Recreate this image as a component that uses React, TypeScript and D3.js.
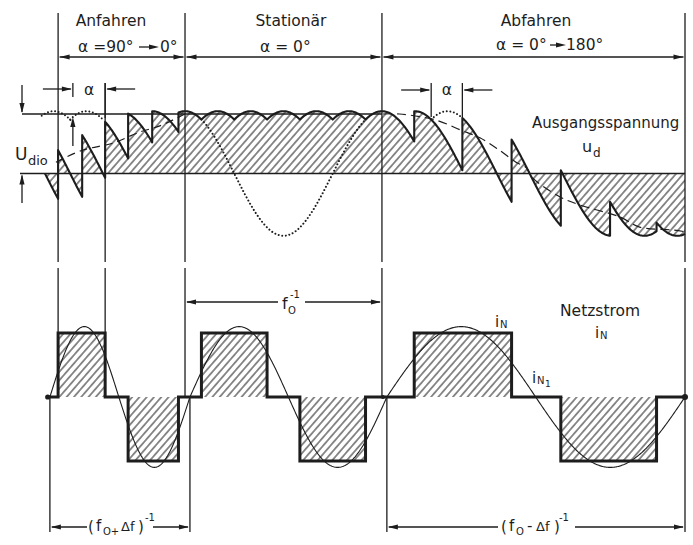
import React from "react";
import * as d3 from "d3";

const W = 693;
const H = 545;
const ink = "#1d1d1d";

// ---------------- data (time axis in electrical degrees of the line voltage, 0° = start of steady state) ----------------
const axisDeg = [-298, 914];
const regionNames = ["Anfahren", "Stationär", "Abfahren"];
const regionStart = [-232, 0, 360];
const regionEnd = [0, 360, 914];

// output voltage u_d: each pulse follows a line-voltage arc (crest udPeak * Udio)
const udPeak = 1.047;
const pulsePeak = [-346, -300, -240, -180, -120, -60, 0, 60, 120, 180, 240, 300, 360, 420, 480, 540, 600, 660, 720];
const pulseFire = [-256, -232, -188, -146, -104, -60, -12, 30, 90, 150, 210, 270, 330, 419, 507, 597, 687, 777, 862];
const pulseEnd = 914;

// line current i_N: block level in each interval between firings
const blockLevel = [0, 1, 1, 0, -1, -1, 0, 1, 1, 0, -1, -1, 0, 1, 1, 0, -1, -1, 0];
const currentStart = -251;

// fundamental i_N1: zero crossings and amplitude
const iN1Zeros = [-247, -121, 9, 189, 369, 641, 914];
const iN1Amp = 1.1;

// dotted (uncontrolled) arcs
const dotArcPeak = [-240, -180, 480];
const dotArcFrom = [-262, -210, 450];
const dotArcTo = [-205, -150, 507];
// dotted line voltage in steady state
const lineVoltFrom = 30;
const lineVoltTo = 330;

// dashed mean value of u_d
const meanUpDeg = [-236, -188, -132, -82, -46, 0];
const meanUpVal = [0.19, 0.39, 0.51, 0.7, 0.8, 1.0];
const meanDownDeg = [362, 392, 458, 504, 539, 575, 605, 625, 634, 685, 722, 795, 831, 892, 914];
const meanDownVal = [1.0, 1.0, 0.9, 0.73, 0.6, 0.39, 0.19, 0.09, -0.06, -0.39, -0.53, -0.73, -0.9, -0.95, -0.98];

// alpha markers
const alphaMarkFrom = [-205, 450];
const alphaMarkTo = [-146, 507];

// ---------------- scales ----------------
const x = d3.scaleLinear().domain(axisDeg).range([22, 685]);
const yU = d3.scaleLinear().domain([0, 1]).range([173.5, 114]);
const yI = d3.scaleLinear().domain([0, 1]).range([397, 333]);

const rad = Math.PI / 180;

function sampleArc(peak: number, from: number, to: number, amp: number): [number, number][] {
  const n = Math.max(2, Math.ceil(Math.abs(to - from) / 1.5));
  return d3.range(n + 1).map((j) => {
    const t = from + ((to - from) * j) / n;
    return [t, amp * Math.cos((t - peak) * rad)] as [number, number];
  });
}

const udPts: [number, number][] = [];
pulseFire.forEach((f, i) => {
  const e = i < pulseFire.length - 1 ? pulseFire[i + 1] : pulseEnd;
  udPts.push(...sampleArc(pulsePeak[i], f, e, udPeak));
});

const curPts: [number, number][] = [];
pulseFire.forEach((f, i) => {
  const e = i < pulseFire.length - 1 ? pulseFire[i + 1] : pulseEnd;
  const a = Math.max(f, currentStart);
  if (e <= currentStart) return;
  curPts.push([a, blockLevel[i]], [e, blockLevel[i]]);
});

const iN1Pts: [number, number][] = [];
for (let i = 0; i < iN1Zeros.length - 1; i++) {
  const a = iN1Zeros[i];
  const b = iN1Zeros[i + 1];
  const s = i % 2 === 0 ? 1 : -1;
  const n = Math.ceil((b - a) / 1.5);
  for (let j = 0; j <= n; j++) {
    const t = a + ((b - a) * j) / n;
    iN1Pts.push([t, s * iN1Amp * Math.sin((Math.PI * j) / n)]);
  }
}

const lineU = d3.line<[number, number]>().x((d) => x(d[0])).y((d) => yU(d[1]));
const areaU = d3
  .area<[number, number]>()
  .x((d) => x(d[0]))
  .y0(yU(0))
  .y1((d) => yU(d[1]));
const lineI = d3.line<[number, number]>().x((d) => x(d[0])).y((d) => yI(d[1]));
const areaI = d3
  .area<[number, number]>()
  .x((d) => x(d[0]))
  .y0(yI(0))
  .y1((d) => yI(d[1]));
const smoothU = d3
  .line<[number, number]>()
  .x((d) => x(d[0]))
  .y((d) => yU(d[1]))
  .curve(d3.curveCatmullRom);

function Head({ x: hx, y: hy, dir }: { x: number; y: number; dir: "l" | "r" | "u" | "d" }) {
  const L = 10;
  const h = 2.6;
  let p: number[][];
  if (dir === "r") p = [[hx, hy], [hx - L, hy - h], [hx - L, hy + h]];
  else if (dir === "l") p = [[hx, hy], [hx + L, hy - h], [hx + L, hy + h]];
  else if (dir === "d") p = [[hx, hy], [hx - h, hy - L], [hx + h, hy - L]];
  else p = [[hx, hy], [hx - h, hy + L], [hx + h, hy + L]];
  return <path d={"M" + p.map((q) => q.join(",")).join("L") + "Z"} fill={ink} />;
}

function VLine({ xx, y1, y2, gap = true }: { xx: number; y1: number; y2: number; gap?: boolean }) {
  if (gap && y1 < 262 && y2 > 268) {
    return (
      <g stroke={ink} strokeWidth={1.3}>
        <line x1={xx} x2={xx} y1={y1} y2={262} />
        <line x1={xx} x2={xx} y1={268} y2={y2} />
      </g>
    );
  }
  return <line x1={xx} x2={xx} y1={y1} y2={y2} stroke={ink} strokeWidth={1.3} />;
}

export default function App() {
  const fs = 15.5;
  const xs = regionStart.map((d) => x(d));
  const xe = regionEnd.map((d) => x(d));
  const titleX = [111, 291, 536];
  const ya = 57;

  return (
    <svg
      width={W}
      height={H}
      viewBox={`0 0 ${W} ${H}`}
      style={{ position: "fixed", left: 0, top: 0, background: "#fff" }}
      fontFamily="DejaVu Sans, sans-serif"
    >
      <defs>
        <pattern id="hatch" patternUnits="userSpaceOnUse" width={5.5} height={10} patternTransform="rotate(41)">
          <line x1={2.75} x2={2.75} y1={0} y2={10} stroke={ink} strokeWidth={1} />
        </pattern>
      </defs>
      <rect width={W} height={H} fill="#fff" />

      {/* region titles */}
      {regionNames.map((n, i) => (
        <text key={n} x={titleX[i]} y={26} fontSize={fs} textAnchor="middle" fill={ink}>
          {n}
        </text>
      ))}

      {/* alpha range labels */}
      <text x={78} y={52} fontSize={fs} fill={ink}>α =90°</text>
      <line x1={139} x2={150} y1={47} y2={47} stroke={ink} strokeWidth={1.3} />
      <Head x={159} y={47} dir="r" />
      <text x={160} y={52} fontSize={fs} fill={ink}>0°</text>
      <text x={260} y={52} fontSize={fs} fill={ink}>α = 0°</text>
      <text x={496} y={50} fontSize={fs} fill={ink}>α = 0°</text>
      <line x1={550} x2={557} y1={45} y2={45} stroke={ink} strokeWidth={1.3} />
      <Head x={566} y={45} dir="r" />
      <text x={566} y={50} fontSize={fs} fill={ink}>180°</text>

      {/* region arrows */}
      {regionNames.map((n, i) => (
        <g key={"ra" + n}>
          <line x1={xs[i] + 1.5} x2={xe[i] - 1.5} y1={ya} y2={ya} stroke={ink} strokeWidth={1.3} />
          <Head x={xs[i] + 1.5} y={ya} dir="l" />
          <Head x={xe[i] - 1.5} y={ya} dir="r" />
        </g>
      ))}

      {/* vertical boundary lines */}
      <VLine xx={x(regionStart[0])} y1={13} y2={yI(1)} />
      <VLine xx={x(pulseFire[3])} y1={83} y2={yI(1)} />
      <VLine xx={x(regionStart[1])} y1={13} y2={yI(0)} />
      <VLine xx={x(regionStart[2])} y1={13} y2={yI(0)} />
      <VLine xx={x(regionEnd[2])} y1={13} y2={532} />
      <VLine xx={x(iN1Zeros[0])} y1={yI(0)} y2={532} gap={false} />
      <VLine xx={x(iN1Zeros[2])} y1={yI(0)} y2={532} gap={false} />
      <VLine xx={x(iN1Zeros[4])} y1={yI(0)} y2={532} gap={false} />

      {/* ---------- upper: output voltage ---------- */}
      <path d={areaU(udPts) || ""} fill="url(#hatch)" />
      <line x1={22} x2={x(360)} y1={yU(1)} y2={yU(1)} stroke={ink} strokeWidth={1.3} />
      <line x1={20} x2={685} y1={yU(0)} y2={yU(0)} stroke={ink} strokeWidth={1.4} />

      {/* dashed mean value */}
      <path
        d={smoothU(meanUpDeg.map((d, i) => [d, meanUpVal[i]] as [number, number])) || ""}
        fill="none"
        stroke={ink}
        strokeWidth={1.2}
        strokeDasharray="8 5"
      />
      <path
        d={smoothU(meanDownDeg.map((d, i) => [d, meanDownVal[i]] as [number, number])) || ""}
        fill="none"
        stroke={ink}
        strokeWidth={1.2}
        strokeDasharray="9 5"
      />

      {/* dotted arcs & dotted line voltage */}
      {dotArcPeak.map((p, i) => (
        <path
          key={"da" + i}
          d={lineU(sampleArc(p, dotArcFrom[i], dotArcTo[i], udPeak)) || ""}
          fill="none"
          stroke={ink}
          strokeWidth={2}
          strokeLinecap="round"
          strokeDasharray="0.01 3.6"
        />
      ))}
      <path
        d={lineU(sampleArc(0, lineVoltFrom, lineVoltTo, udPeak)) || ""}
        fill="none"
        stroke={ink}
        strokeWidth={2}
        strokeLinecap="round"
        strokeDasharray="0.01 3.6"
      />

      <path d={lineU(udPts) || ""} fill="none" stroke={ink} strokeWidth={2.1} strokeLinejoin="round" />

      {/* Udio dimension */}
      <line x1={22} x2={22} y1={85} y2={yU(1) - 2} stroke={ink} strokeWidth={1.3} />
      <Head x={22} y={yU(1) - 1} dir="d" />
      <line x1={22} x2={22} y1={203} y2={yU(0) + 2} stroke={ink} strokeWidth={1.3} />
      <Head x={22} y={yU(0) + 1} dir="u" />
      <text x={15} y={160} fontSize={17} fill={ink}>U</text>
      <text x={28} y={165} fontSize={13} fill={ink}>dio</text>

      {/* alpha markers */}
      {alphaMarkFrom.map((a, i) => {
        const xa = x(a);
        const xb = x(alphaMarkTo[i]);
        const yy = i === 0 ? 89 : 90;
        return (
          <g key={"am" + i}>
            <line x1={xa - 30} x2={xa - 2} y1={yy} y2={yy} stroke={ink} strokeWidth={1.3} />
            <Head x={xa - 1} y={yy} dir="r" />
            <line x1={xb + 2} x2={xb + 30} y1={yy} y2={yy} stroke={ink} strokeWidth={1.3} />
            <Head x={xb + 1} y={yy} dir="l" />
            <line x1={xa} x2={xa} y1={83} y2={i === 0 ? 97 : 117} stroke={ink} strokeWidth={1.3} />
            <line x1={xb} x2={xb} y1={83} y2={118} stroke={ink} strokeWidth={1.3} />
            <text x={(xa + xb) / 2} y={95} fontSize={fs} textAnchor="middle" fill={ink}>α</text>
          </g>
        );
      })}
      <line x1={x(alphaMarkFrom[0])} x2={x(alphaMarkFrom[0])} y1={146} y2={126} stroke={ink} strokeWidth={1.3} />
      <Head x={x(alphaMarkFrom[0])} y={117} dir="u" />

      <text x={532} y={128} fontSize={15} fill={ink}>Ausgangsspannung</text>
      <text x={582} y={152} fontSize={16} fill={ink}>u</text>
      <text x={593} y={157} fontSize={12} fill={ink}>d</text>

      {/* ---------- lower: line current ---------- */}
      <path d={areaI(curPts) || ""} fill="url(#hatch)" />
      <path d={lineI(iN1Pts) || ""} fill="none" stroke={ink} strokeWidth={1.1} />
      <path d={lineI(curPts) || ""} fill="none" stroke={ink} strokeWidth={3} strokeLinejoin="miter" />
      <circle cx={x(currentStart)} cy={yI(0)} r={2.6} fill={ink} />
      <circle cx={x(pulseEnd)} cy={yI(0)} r={3} fill={ink} />
      <circle cx={x(iN1Zeros[4]) - 4} cy={yI(0)} r={2} fill={ink} />

      <text x={560} y={316} fontSize={fs} fill={ink}>Netzstrom</text>
      <text x={595} y={338} fontSize={15} fill={ink}>i</text>
      <text x={600} y={339} fontSize={10} fill={ink}>N</text>
      <text x={495} y={327} fontSize={15} fill={ink}>i</text>
      <text x={500} y={328} fontSize={10} fill={ink}>N</text>
      <text x={532} y={383} fontSize={15} fill={ink}>i</text>
      <text x={537} y={384} fontSize={10} fill={ink}>N</text>
      <text x={545} y={387} fontSize={9} fill={ink}>1</text>

      {/* f0^-1 dimension */}
      <line x1={x(0) + 2} x2={278} y1={302} y2={302} stroke={ink} strokeWidth={1.3} />
      <line x1={305} x2={x(360) - 2} y1={302} y2={302} stroke={ink} strokeWidth={1.3} />
      <Head x={x(0) + 1} y={302} dir="l" />
      <Head x={x(360) - 1} y={302} dir="r" />
      <text x={282} y={309} fontSize={16} fill={ink}>f</text>
      <text x={288} y={314} fontSize={10} fill={ink}>O</text>
      <text x={290} y={298} fontSize={10} fill={ink}>-1</text>

      {/* (f0 + Δf)^-1 */}
      <line x1={x(iN1Zeros[0]) + 2} x2={87} y1={527} y2={527} stroke={ink} strokeWidth={1.3} />
      <line x1={153} x2={x(iN1Zeros[2]) - 2} y1={527} y2={527} stroke={ink} strokeWidth={1.3} />
      <Head x={x(iN1Zeros[0]) + 1} y={527} dir="l" />
      <Head x={x(iN1Zeros[2]) - 1} y={527} dir="r" />
      <text x={88} y={532} fontSize={15} fill={ink}>(</text>
      <text x={96} y={531} fontSize={15} fill={ink}>f</text>
      <text x={103} y={535} fontSize={10} fill={ink}>O+</text>
      <text x={121} y={531} fontSize={13} fill={ink}>Δf</text>
      <text x={138} y={532} fontSize={15} fill={ink}>)</text>
      <text x={145} y={521} fontSize={10} fill={ink}>-1</text>

      {/* (f0 - Δf)^-1 */}
      <line x1={x(iN1Zeros[4]) + 2} x2={498} y1={527} y2={527} stroke={ink} strokeWidth={1.3} />
      <line x1={575} x2={x(iN1Zeros[6]) - 2} y1={527} y2={527} stroke={ink} strokeWidth={1.3} />
      <Head x={x(iN1Zeros[4]) + 1} y={527} dir="l" />
      <Head x={x(iN1Zeros[6]) - 1} y={527} dir="r" />
      <text x={501} y={532} fontSize={15} fill={ink}>(</text>
      <text x={509} y={531} fontSize={15} fill={ink}>f</text>
      <text x={516} y={535} fontSize={10} fill={ink}>O</text>
      <text x={527} y={531} fontSize={15} fill={ink}>-</text>
      <text x={536} y={531} fontSize={13} fill={ink}>Δf</text>
      <text x={554} y={532} fontSize={15} fill={ink}>)</text>
      <text x={559} y={521} fontSize={10} fill={ink}>-1</text>
    </svg>
  );
}
